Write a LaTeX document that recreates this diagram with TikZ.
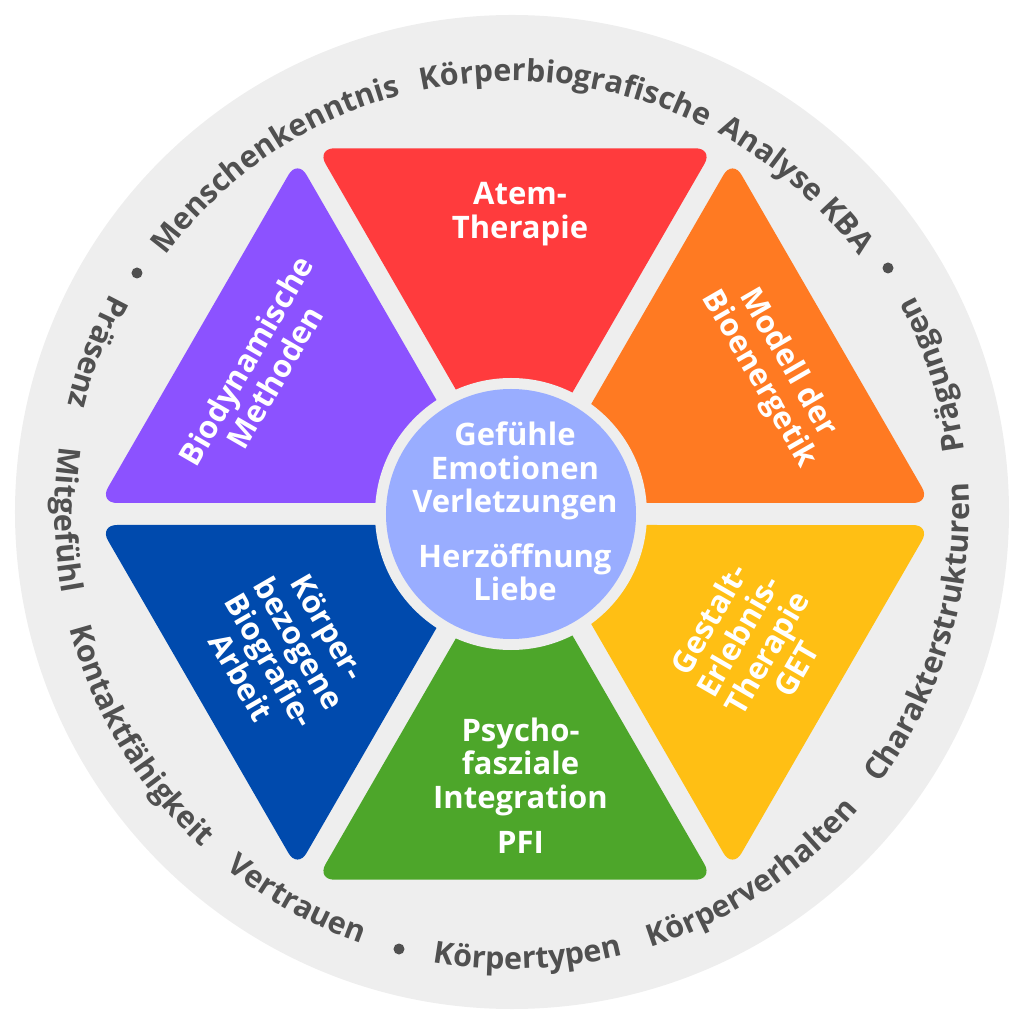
\documentclass[tikz,border=0pt]{standalone}
\usepackage{fontspec}
\setmainfont{Open Sans}
\usetikzlibrary{decorations.text}
\definecolor{cred}{HTML}{FF3B3D}
\definecolor{corange}{HTML}{FF7A22}
\definecolor{cpurple}{HTML}{8C52FF}
\definecolor{cblue}{HTML}{004AAD}
\definecolor{cyellow}{HTML}{FFBF14}
\definecolor{cgreen}{HTML}{4DA62A}
\definecolor{clav}{HTML}{99ADFF}
\definecolor{cbg}{HTML}{EEEEEE}
\definecolor{ctext}{HTML}{505050}
\newcommand\outerfont{\fontsize{30.5}{34}\selectfont\bfseries\color{ctext}}
\newcommand\topword[2]{\path[decorate,decoration={text along path, text align=center, text={|\outerfont|#2}}] (#1+40:431) arc[start angle=#1+40, end angle=#1-40, radius=431];}
\newcommand\botword[2]{\path[decorate,decoration={text along path, text align=center, text={|\outerfont|#2}}] (#1-40:457) arc[start angle=#1-40, end angle=#1+40, radius=457];}
\begin{document}
\begin{tikzpicture}[x=1pt,y=1pt,
  lab/.style={text=white, font=\fontsize{31}{33.5}\selectfont\bfseries, align=center, inner sep=0pt},
  dotmark/.style={fill=ctext}]
\useasboundingbox (-512,-512) rectangle (508,512);
\fill[cbg] (0,0) circle[radius=497];
\coordinate (hc) at (3,-2);
\coordinate (cc) at (-1,-2);
\foreach \k/\c in {0/corange,1/cred,2/cpurple,3/cblue,4/cgreen,5/cyellow}{
  \begin{scope}[shift={(hc)}, rotate=60*\k]
    \fill[\c, rounded corners=18pt] (19.05,11) -- (415.95,11) -- (217.5,354.7) -- cycle;
  \end{scope}
}
\fill[cbg] (cc) circle[radius=136];
\fill[clav] (cc) circle[radius=125];
% segment labels
\node[lab] (atem) at (8,298) {Atem-\\Therapie};
\node[lab, rotate=-60] (modell) at (261,141) {Modell der\\Bioenergetik};
\node[lab, rotate=60] (biodyn) at (-252,143) {Biodynamische\\Methoden};
\node[lab, rotate=-60] (koerper) at (-227,-140) {Körper-\\bezogene\\Biografie-\\Arbeit};
\node[lab, rotate=60] (gestalt) at (240,-132) {Gestalt-\\Erlebnis-\\Therapie\\GET};
\node[lab] (pfi) at (8.5,-273.5) {Psycho-\\fasziale\\Integration\\[12pt]PFI};
\node[lab] (center) at (3,0.5) {Gefühle\\Emotionen\\Verletzungen\\[21pt]Herzöffnung\\Liebe};
% outer ring texts
\topword{124.2}{Menschenkenntnis}
\topword{82.7}{Körperbiografische}
\topword{49}{Analyse KBA}
\botword{159}{Präsenz}
\botword{181}{Mitgefühl}
\botword{211}{Kontaktfähigkeit}
\botword{241}{Vertrauen}
\botword{272}{Körpertypen}
\botword{303.5}{Körperverhalten}
\botword{343.6}{Charakterstrukturen}
\botword{378}{Prägungen}
\fill[dotmark] (-375,239) circle[radius=5.5];
\fill[dotmark] (376,244) circle[radius=5.5];
\fill[dotmark] (-113,-437) circle[radius=5.5];
\end{tikzpicture}
\end{document}
